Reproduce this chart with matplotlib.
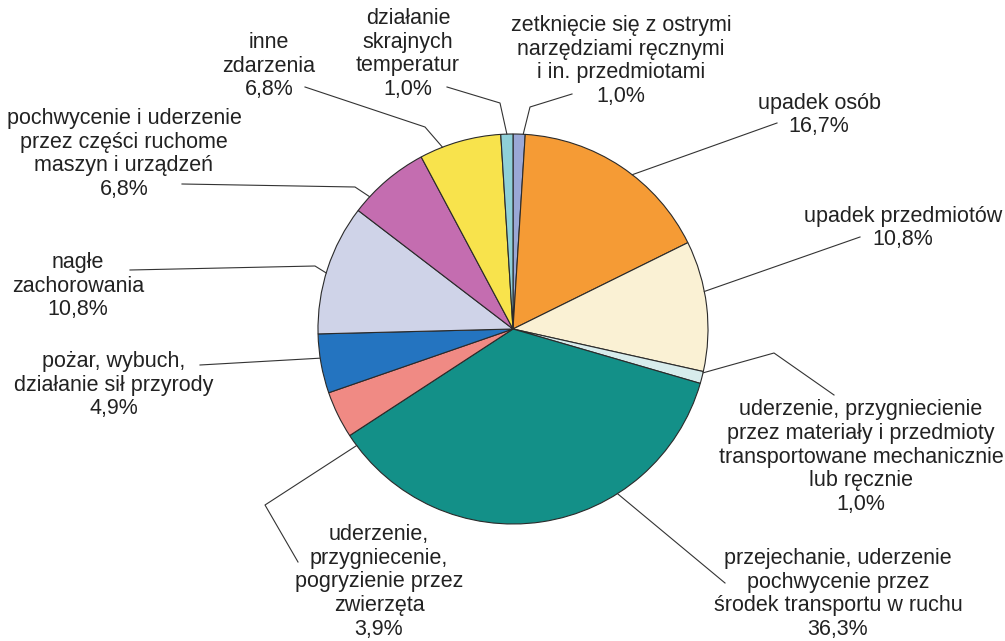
import numpy as np
import matplotlib
matplotlib.use("Agg")
import matplotlib.pyplot as plt

plt.rcParams['font.family'] = ['Liberation Sans', 'DejaVu Sans']

# wypadki wg przyczyny, od góry zgodnie z ruchem wskazówek zegara
labels = [
    "zetknięcie się z ostrymi\nnarzędziami ręcznymi\ni in. przedmiotami",
    "upadek osób",
    "upadek przedmiotów",
    "uderzenie, przygniecienie\nprzez materiały i przedmioty\ntransportowane mechanicznie\nlub ręcznie",
    "przejechanie, uderzenie\npochwycenie przez\nśrodek transportu w ruchu",
    "uderzenie,\nprzygniecenie,\npogryzienie przez\nzwierzęta",
    "pożar, wybuch,\ndziałanie sił przyrody",
    "nagłe\nzachorowania",
    "pochwycenie i uderzenie\nprzez części ruchome\nmaszyn i urządzeń",
    "inne\nzdarzenia",
    "działanie\nskrajnych\ntemperatur",
]
shares = [1.0, 16.7, 10.8, 1.0, 36.3, 3.9, 4.9, 10.8, 6.8, 6.8, 1.0]
colors = ["#9aa8d6", "#f59b35", "#faf1d4", "#d7ecec", "#139088", "#f08a84",
          "#2474c0", "#cfd3e8", "#c46db0", "#f8e34c", "#8fd0d8"]

W, H = 1005, 641
cx, cy, R = 513, 329, 195

# label layout in pixel coords: text centre, leader path (text side first), edge angle
layout = [
    ((621, 61), [(572, 94), (530, 107)], 87.0),
    ((819, 115), [(777, 123)], 52.3),
    ((903, 228), [(860, 237)], 11.1),
    ((861, 457), [(834, 395), (774, 353)], -13.0),
    ((838, 594), [(725, 583)], -57.6),
    ((379, 582), [(298, 562), (265, 505)], 216.7),
    ((114, 385), [(200, 365)], 188.6),
    ((78, 286), [(130, 270), (315, 266)], 163.3),
    ((124, 154), [(182, 184), (355, 187)], 137.3),
    ((269, 66), [(305, 87), (425, 127)], 111.2),
    ((408, 54), [(447, 87), (500, 103)], 91.8),
]

fig = plt.figure(figsize=(W / 100, H / 100), dpi=100)
ax = fig.add_axes([0, 0, 1, 1])

ax.pie(shares, colors=colors, startangle=90, counterclock=False,
       center=(cx, H - cy), radius=R,
       wedgeprops=dict(edgecolor="#2a2a2a", linewidth=0.8))

for lab, val, (pos, path, ang) in zip(labels, shares, layout):
    txt = lab + "\n" + f"{val:.1f}%".replace(".", ",")
    ax.text(pos[0], H - pos[1], txt, ha="center", va="center",
            fontsize=15.5, color="#222222", linespacing=1.16)
    a = np.deg2rad(ang)
    end = (cx + R * np.cos(a), cy - R * np.sin(a))
    pts = path + [end]
    ax.plot([p[0] for p in pts], [H - p[1] for p in pts],
            color="#333333", linewidth=0.8)

ax.set_xlim(0, W)
ax.set_ylim(0, H)
ax.set_aspect("equal")
ax.axis("off")

plt.savefig("out.png", dpi=100)
